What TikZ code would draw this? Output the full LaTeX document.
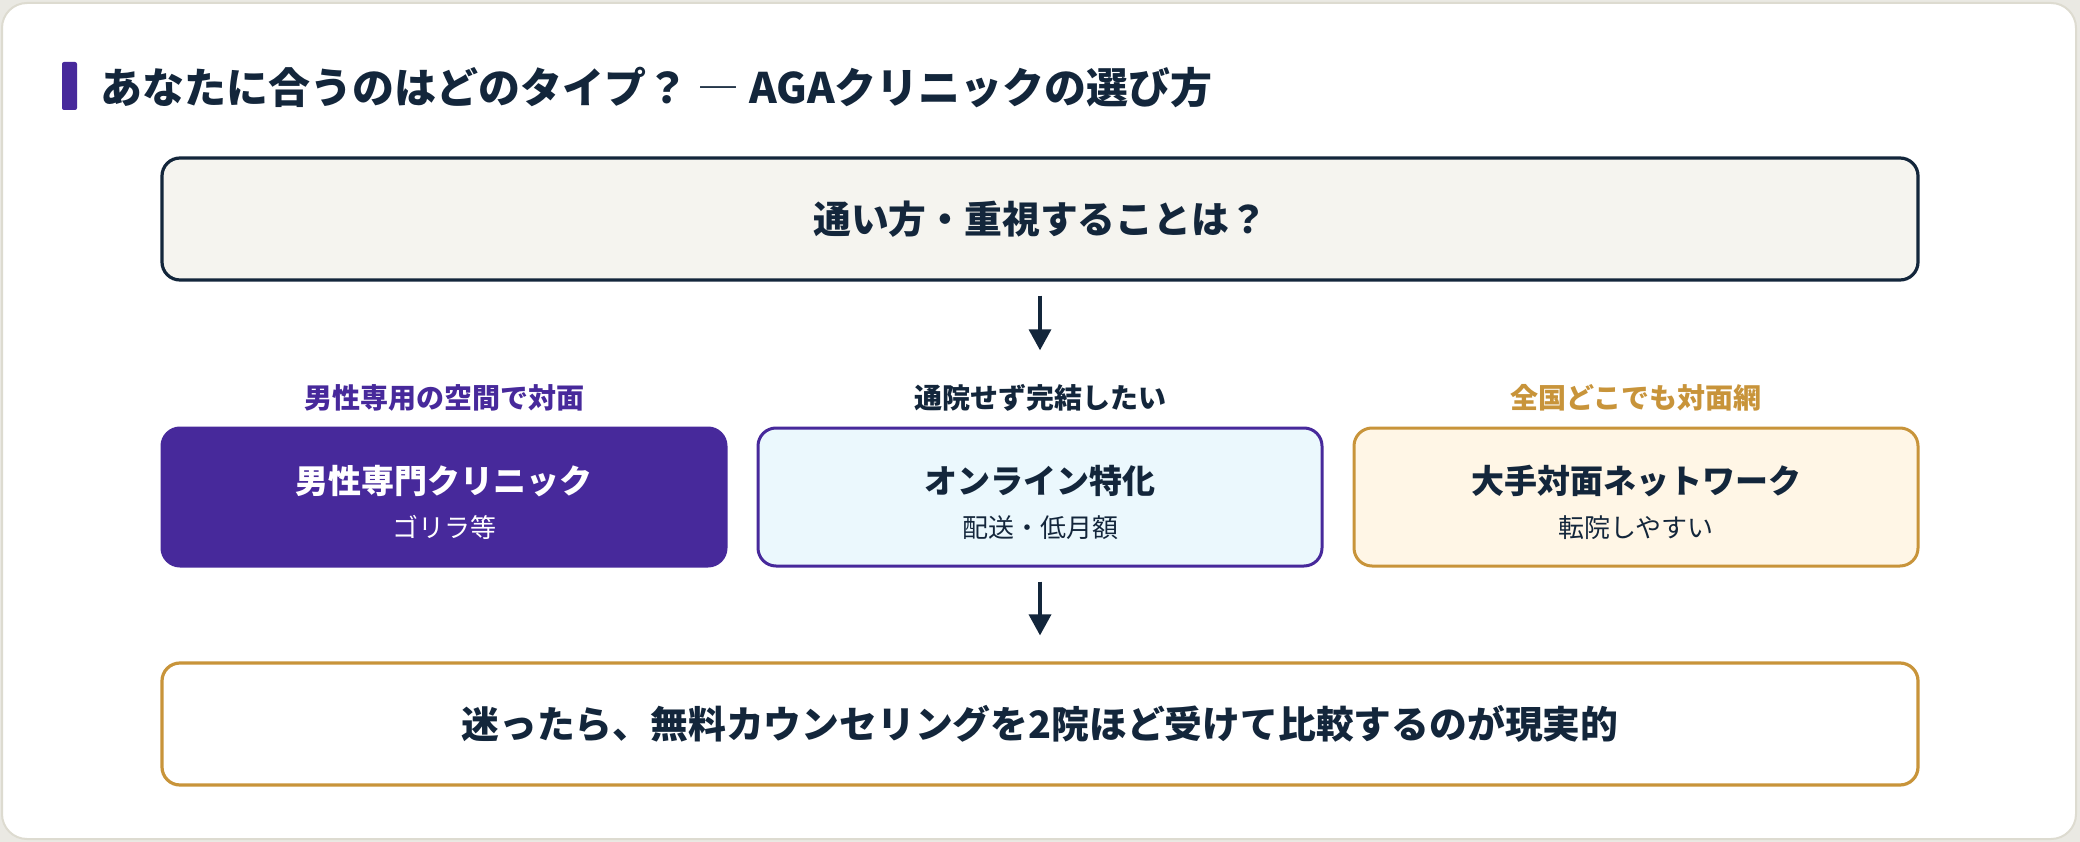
\documentclass[tikz,border=0pt]{standalone}
\usepackage{fontspec}
\setmainfont{Noto Sans CJK JP}
\usetikzlibrary{arrows.meta}
\definecolor{navy}{HTML}{13263B}
\definecolor{purp}{HTML}{47299B}
\definecolor{gold}{HTML}{C8943A}
\definecolor{topfill}{HTML}{F5F4EF}
\definecolor{midfill}{HTML}{EBF8FD}
\definecolor{rightfill}{HTML}{FFF6E6}
\definecolor{outbg}{HTML}{EAE9E3}
\definecolor{cardline}{HTML}{DDDBD0}
\begin{document}
\begin{tikzpicture}[x=1pt,y=-1pt,
  wide/.style={rectangle, rounded corners=18pt, line width=3.2pt, minimum width=1756pt, minimum height=122pt, inner sep=0pt, text=navy, font=\fontsize{37.8}{44}\selectfont\bfseries},
  rowbox/.style={rectangle, rounded corners=18pt, line width=3pt, minimum width=564pt, minimum height=138pt, inner sep=0pt, align=center, text=navy, font=\fontsize{26}{44}\selectfont},
  headline/.style={inner sep=0pt, font=\fontsize{28}{34}\selectfont\bfseries},
  arr/.style={draw=navy, line width=3.5pt, -{Triangle[width=22pt,length=21pt]}}
]
\fill[outbg] (0,0) rectangle (2080,842);
\draw[cardline, fill=white, line width=2pt, rounded corners=25pt] (2,3) rectangle (2076,839);
% title
\node[fill=purp, rounded corners=2pt, minimum width=15pt, minimum height=48pt, inner sep=0pt] (bar) at (69.5,86) {};
\node[anchor=west, inner sep=0pt, text=navy, font=\fontsize{42}{50}\selectfont\bfseries] (title) at (100,88) {あなたに合うのはどのタイプ？ {\mdseries ―} AGAクリニックの選び方};
% question
\node[wide, draw=navy, fill=topfill] (q) at (1040,219) {通い方・重視することは？};
% headings
\node[headline, text=purp] (h1) at (444,398) {男性専用の空間で対面};
\node[headline, text=navy] (h2) at (1040,398) {通院せず完結したい};
\node[headline, text=gold] (h3) at (1636,398) {全国どこでも対面網};
% options
\node[rowbox, draw=purp, fill=purp, text=white] (b1) at (444,497) {\rule{0pt}{40pt}{\fontsize{33}{44}\selectfont\bfseries 男性専門クリニック}\\ゴリラ等};
\node[rowbox, draw=purp, fill=midfill] (b2) at (1040,497) {\rule{0pt}{40pt}{\fontsize{33}{44}\selectfont\bfseries オンライン特化}\\配送・低月額};
\node[rowbox, draw=gold, fill=rightfill] (b3) at (1636,497) {\rule{0pt}{40pt}{\fontsize{33}{44}\selectfont\bfseries 大手対面ネットワーク}\\転院しやすい};
% conclusion
\node[wide, draw=gold, fill=white] (c) at (1040,724) {迷ったら、無料カウンセリングを2院ほど受けて比較するのが現実的};
% arrows
\draw[arr, shorten <=14pt, shorten >=34pt] (q.south) -- (h2.north);
\draw[arr, shorten <=14pt, shorten >=26pt] (b2.south) -- (c.north);
\end{tikzpicture}
\end{document}
